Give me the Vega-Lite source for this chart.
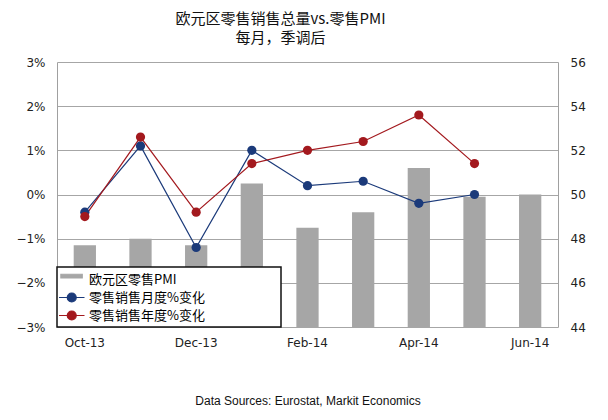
{
  "$schema": "https://vega.github.io/schema/vega-lite/v6.json",
  "description": "欧元区零售销售总量vs.零售PMI",
  "autosize": "none",
  "width": 501,
  "height": 265,
  "padding": {"left": 57, "top": 62, "right": 50, "bottom": 93},
  "background": "white",
  "title": {
    "text": "欧元区零售销售总量vs.零售PMI",
    "subtitle": "每月，季调后",
    "anchor": "middle",
    "dx": -27,
    "offset": 10,
    "font": "Noto Sans CJK SC",
    "fontSize": 15,
    "fontWeight": "normal",
    "color": "#111",
    "subtitleFont": "Noto Sans CJK SC",
    "subtitleFontSize": 15,
    "subtitleColor": "#111",
    "subtitlePadding": 4
  },
  "data": {
    "values": [
      {"month": "Oct-13", "series": "欧元区零售PMI", "value": 47.7},
      {"month": "Nov-13", "series": "欧元区零售PMI", "value": 48.0},
      {"month": "Dec-13", "series": "欧元区零售PMI", "value": 47.7},
      {"month": "Jan-14", "series": "欧元区零售PMI", "value": 50.5},
      {"month": "Feb-14", "series": "欧元区零售PMI", "value": 48.5},
      {"month": "Mar-14", "series": "欧元区零售PMI", "value": 49.2},
      {"month": "Apr-14", "series": "欧元区零售PMI", "value": 51.2},
      {"month": "May-14", "series": "欧元区零售PMI", "value": 49.9},
      {"month": "Jun-14", "series": "欧元区零售PMI", "value": 50.0},
      {"month": "Oct-13", "series": "零售销售月度%变化", "value": -0.004},
      {"month": "Nov-13", "series": "零售销售月度%变化", "value": 0.011},
      {"month": "Dec-13", "series": "零售销售月度%变化", "value": -0.012},
      {"month": "Jan-14", "series": "零售销售月度%变化", "value": 0.010},
      {"month": "Feb-14", "series": "零售销售月度%变化", "value": 0.002},
      {"month": "Mar-14", "series": "零售销售月度%变化", "value": 0.003},
      {"month": "Apr-14", "series": "零售销售月度%变化", "value": -0.002},
      {"month": "May-14", "series": "零售销售月度%变化", "value": 0.000},
      {"month": "Oct-13", "series": "零售销售年度%变化", "value": -0.005},
      {"month": "Nov-13", "series": "零售销售年度%变化", "value": 0.013},
      {"month": "Dec-13", "series": "零售销售年度%变化", "value": -0.004},
      {"month": "Jan-14", "series": "零售销售年度%变化", "value": 0.007},
      {"month": "Feb-14", "series": "零售销售年度%变化", "value": 0.010},
      {"month": "Mar-14", "series": "零售销售年度%变化", "value": 0.012},
      {"month": "Apr-14", "series": "零售销售年度%变化", "value": 0.018},
      {"month": "May-14", "series": "零售销售年度%变化", "value": 0.007}
    ]
  },
  "encoding": {
    "x": {
      "field": "month",
      "type": "ordinal",
      "sort": null,
      "scale": {"paddingInner": 0.6, "paddingOuter": 0.3},
      "axis": {
        "values": ["Oct-13", "Dec-13", "Feb-14", "Apr-14", "Jun-14"],
        "labelAngle": 0,
        "ticks": false,
        "domain": false,
        "labelPadding": 10,
        "labelFont": "DejaVu Sans",
        "labelFontSize": 12,
        "labelColor": "#222",
        "title": "Data Sources: Eurostat, Markit Economics",
        "titleFont": "Liberation Sans",
        "titleFontSize": 12,
        "titleFontWeight": "normal",
        "titleColor": "#111",
        "titlePadding": 47
      }
    },
    "color": {
      "field": "series",
      "type": "nominal",
      "scale": {
        "domain": ["欧元区零售PMI", "零售销售月度%变化", "零售销售年度%变化"],
        "range": ["#A6A6A6", "#1B3A7A", "#A3191E"]
      },
      "legend": {
        "title": null,
        "orient": "bottom-left",
        "offset": 0,
        "padding": 4,
        "rowPadding": 2,
        "fillColor": "white",
        "strokeColor": "#111",
        "symbolSize": 225,
        "labelOffset": 11,
        "labelFont": "Noto Sans CJK SC",
        "labelFontSize": 13,
        "labelColor": "#000",
        "labelLimit": 400,
        "labelExpr": "datum.label + '\u3000\u3000\u3000\u3000\u3000\u2002\u200b'",
        "encode": {
          "legend": {"update": {"strokeWidth": {"value": 1.5}}},
          "symbols": {
            "update": {
              "shape": {"signal": "datum.value === '欧元区零售PMI' ? 'M-1.15,-0.7H1.7V-0.2H-1.15Z' : 'M-1.4,0H2.0M-0.3,0A0.6,0.6 0 1,1 0.9,0A0.6,0.6 0 1,1 -0.3,0Z'"},
              "fill": {"scale": "color", "field": "value"},
              "stroke": {"scale": "color", "field": "value"},
              "strokeWidth": {"value": 1.2},
              "opacity": {"value": 1},
              "fillOpacity": {"value": 1}
            }
          }
        }
      }
    }
  },
  "layer": [
    {
      "transform": [{"filter": "datum.series === '欧元区零售PMI'"}],
      "mark": {"type": "bar", "color": "#A6A6A6"},
      "encoding": {
        "y": {
          "field": "value",
          "type": "quantitative",
          "scale": {"domain": [44, 56], "zero": false, "nice": false},
          "axis": {
            "orient": "right",
            "values": [44, 46, 48, 50, 52, 54, 56],
            "grid": false,
            "ticks": false,
            "domainColor": "#A0A0A0",
            "labelPadding": 12,
            "labelFont": "DejaVu Sans",
            "labelFontSize": 12,
            "labelColor": "#222",
            "title": null
          }
        },
        "y2": {"datum": 44}
      }
    },
    {
      "transform": [{"filter": "datum.series !== '欧元区零售PMI'"}],
      "mark": {"type": "line", "strokeWidth": 1.2, "point": {"filled": true, "size": 85, "opacity": 1}},
      "encoding": {
        "y": {
          "field": "value",
          "type": "quantitative",
          "scale": {"domain": [-0.03, 0.03], "nice": false},
          "axis": {
            "orient": "left",
            "values": [-0.03, -0.02, -0.01, 0, 0.01, 0.02, 0.03],
            "format": ".0%",
            "grid": true,
            "gridColor": "#A6A6A6",
            "ticks": false,
            "domainColor": "#A0A0A0",
            "labelPadding": 12,
            "labelFont": "DejaVu Sans",
            "labelFontSize": 12,
            "labelColor": "#222",
            "title": null
          }
        }
      }
    }
  ],
  "resolve": {"scale": {"y": "independent"}},
  "config": {
    "view": {"stroke": null}
  }
}
